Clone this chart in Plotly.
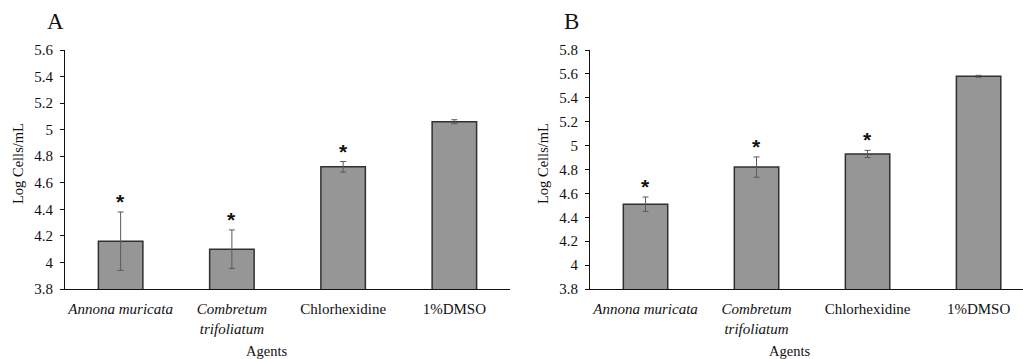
import plotly.graph_objects as go

W, H = 1023, 359

categories = ["<i>Annona muricata</i>", "<i>Combretum</i><br><i>trifoliatum</i>", "Chlorhexidine", "1%DMSO"]
a_values = [4.16, 4.10, 4.72, 5.06]
a_errors = [0.22, 0.145, 0.04, 0.015]
a_signif = [True, True, True, False]
b_values = [4.51, 4.82, 4.93, 5.58]
b_errors = [0.06, 0.085, 0.03, 0.008]
b_signif = [True, True, True, False]
a_yticks = [3.8, 4, 4.2, 4.4, 4.6, 4.8, 5, 5.2, 5.4, 5.6]
b_yticks = [3.8, 4, 4.2, 4.4, 4.6, 4.8, 5, 5.2, 5.4, 5.6, 5.8]

FONT = "Liberation Serif"
TFONT = "Times New Roman"
BAR = "#969696"
EDGE = "#303030"
ERR = "#5a5a5a"

T, B = 50, 70
PH = H - T - B


def py(ypix):
    return (H - B - ypix) / PH


fig = go.Figure()
xidx = list(range(len(categories)))

for vals, errs, xa, ya in [(a_values, a_errors, "x", "y"), (b_values, b_errors, "x2", "y2")]:
    fig.add_trace(go.Bar(
        x=xidx, y=vals, xaxis=xa, yaxis=ya, base=0,
        marker=dict(color=BAR, line=dict(color=EDGE, width=1.5)),
        error_y=dict(type="data", array=errs, visible=True, color=ERR, thickness=1, width=3),
        width=0.4, showlegend=False, hoverinfo="skip",
    ))

ann = []
for vals, errs, sig, xa, ya in [(a_values, a_errors, a_signif, "x", "y"), (b_values, b_errors, b_signif, "x2", "y2")]:
    for i, (v, e, s) in enumerate(zip(vals, errs, sig)):
        if s:
            ann.append(dict(x=i, y=v + e, xref=xa, yref=ya, text="<b>*</b>", showarrow=False,
                            yanchor="bottom", yshift=-3, font=dict(family="Liberation Sans", size=21, color="#111")))

x1d = [65 / W, 510 / W]
x2d = [590 / W, 1.0]

# panel labels
ann.append(dict(x=55 / W, y=py(22), xref="paper", yref="paper", text="A", showarrow=False,
                xanchor="center", yanchor="middle", font=dict(family=FONT, size=23, color="#111")))
ann.append(dict(x=571 / W, y=py(22), xref="paper", yref="paper", text="B", showarrow=False,
                xanchor="center", yanchor="middle", font=dict(family=FONT, size=23, color="#111")))
# y titles
for xp in [18, 543]:
    ann.append(dict(x=xp / W, y=py(164), xref="paper", yref="paper", text="Log Cells/mL", showarrow=False,
                    textangle=-90, xanchor="center", yanchor="middle", font=dict(family=FONT, size=14.5, color="#111")))
# x titles
for xp in [266, 789]:
    ann.append(dict(x=xp / W, y=py(351), xref="paper", yref="paper", text="Agents", showarrow=False,
                    xanchor="center", yanchor="middle", font=dict(family=FONT, size=14.5, color="#111")))

xaxis_common = dict(tickmode="array", tickvals=xidx, ticktext=categories, showline=True, linecolor="#111",
                    linewidth=1, ticks="", showgrid=False, zeroline=False, ticklabelstandoff=6,
                    tickfont=dict(family=TFONT, size=15, color="#111"), fixedrange=True)
yaxis_common = dict(showline=True, linecolor="#111", linewidth=1, ticks="outside", ticklen=4, tickcolor="#111",
                    showgrid=False, zeroline=False, tickfont=dict(family=TFONT, size=15, color="#111"),
                    tickmode="array", ticklabelstandoff=4, fixedrange=True)

fig.update_layout(
    width=W, height=H,
    margin=dict(l=0, r=0, t=T, b=B),
    font=dict(family=FONT, color="#111"),
    paper_bgcolor="white", plot_bgcolor="white",
    xaxis=dict(domain=x1d, range=[-0.5, 3.5], anchor="y", **xaxis_common),
    xaxis2=dict(domain=x2d, range=[-0.5, 3.4], anchor="y2", **xaxis_common),
    yaxis=dict(domain=[0, 1], range=[3.8, 5.6], anchor="x", tickvals=a_yticks,
               ticktext=[f"{v:g}" for v in a_yticks], **yaxis_common),
    yaxis2=dict(domain=[0, 1], range=[3.8, 5.8], anchor="x2", tickvals=b_yticks,
                ticktext=[f"{v:g}" for v in b_yticks], **yaxis_common),
    annotations=ann,
    showlegend=False,
)

fig.write_html("out.html", config={"displayModeBar": False, "staticPlot": True},
               post_script="document.body.style.margin='0';")
